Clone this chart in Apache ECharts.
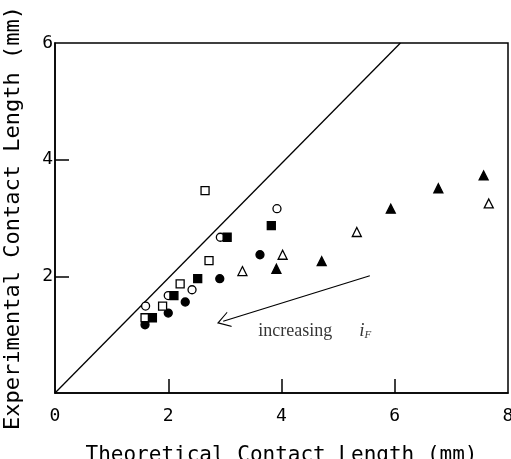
<!DOCTYPE html>
<html>
<head>
<meta charset="utf-8">
<script src="https://cdn.jsdelivr.net/npm/echarts@6/dist/echarts.min.js"></script>
<style>html,body{margin:0;padding:0;background:#fff}#c{width:511px;height:459px}</style>
</head>
<body>
<div id="c"></div>
<script>
// ---- data ----
var xTicks = [0, 2, 4, 6, 8];
var yTicks = [2, 4, 6];
var openCircles   = [[1.60,1.49],[2.00,1.67],[2.42,1.77],[2.92,2.67],[3.92,3.16]];
var filledCircles = [[1.59,1.17],[2.00,1.37],[2.30,1.56],[2.91,1.96],[3.62,2.37]];
var openSquares   = [[1.59,1.29],[1.90,1.49],[2.21,1.87],[2.65,3.47],[2.72,2.27]];
var filledSquares = [[1.72,1.29],[2.10,1.67],[2.52,1.96],[3.04,2.67],[3.82,2.87]];
var openTriangles = [[3.31,2.09],[4.02,2.37],[5.33,2.76],[7.66,3.25]];
var filledTriangles = [[3.91,2.13],[4.71,2.26],[5.93,3.16],[6.77,3.51],[7.57,3.73]];
var unityLine = [[0,0],[6.1,6]];
var arrowFrom = [5.56, 2.01];
var arrowTo = [2.97, 1.23];
var noteAt = [[3.59, 1.06]];
var noteText = 'increasing';

var axisFont = 'DejaVu Sans Mono';

function pts(name, data, symbol, filled, size) {
  return {
    name: name, type: 'scatter', data: data, symbol: symbol, symbolSize: size,
    itemStyle: { color: filled ? '#000' : '#fff', borderColor: '#000', borderWidth: 1.3, opacity: 1 },
    z: 5, animation: false
  };
}

var chart = echarts.init(document.getElementById('c'), null, {renderer: 'canvas'});
chart.setOption({
  backgroundColor: '#fff',
  animation: false,
  grid: { left: 55, right: 3, top: 43, bottom: 66, outerBoundsMode: 'none', containLabel: false,
    show: true, borderColor: '#000', borderWidth: 1.5, backgroundColor: 'transparent' },
  xAxis: {
    type: 'value', min: 0, max: 8, interval: 2,
    name: 'Theoretical Contact Length (mm)', nameLocation: 'middle', nameGap: 52,
    nameTextStyle: { fontFamily: axisFont, fontSize: 21, color: '#000' },
    axisLine: { show: true, lineStyle: { color: '#000', width: 1.5 } },
    axisTick: { show: true, inside: true, length: 14, lineStyle: { color: '#000', width: 1.5 },
      customValues: [2, 4, 6] },
    axisLabel: { fontFamily: axisFont, fontSize: 18, color: '#000', margin: 14,
      customValues: xTicks },
    splitLine: { show: false }
  },
  yAxis: {
    type: 'value', min: 0, max: 6, interval: 2,
    name: 'Experimental Contact Length (mm)', nameLocation: 'middle', nameGap: 31,
    nameTextStyle: { fontFamily: axisFont, fontSize: 22, color: '#000' },
    axisLine: { show: true, lineStyle: { color: '#000', width: 1.5 } },
    axisTick: { show: true, inside: true, length: 14, lineStyle: { color: '#000', width: 1.5 },
      customValues: [2, 4] },
    axisLabel: { fontFamily: axisFont, fontSize: 18, color: '#000', margin: 2,
      customValues: yTicks },
    splitLine: { show: false }
  },
  series: [
    { type: 'line', data: unityLine, symbol: 'none', lineStyle: { color: '#000', width: 1.3 }, z: 3, silent: true,
      markLine: {
        silent: true, symbol: ['none', 'path://M10,0 L20,14 L18.5,14 L10,2.5 L1.5,14 L0,14 Z'], symbolSize: [16, 13],
        lineStyle: { color: '#000', width: 1.3, type: 'solid' }, label: { show: false },
        data: [[{ coord: arrowFrom }, { coord: arrowTo }]]
      }
    },
    pts('open circle', openCircles, 'circle', false, 8),
    pts('filled circle', filledCircles, 'circle', true, 8),
    pts('open square', openSquares, 'rect', false, 8),
    pts('filled square', filledSquares, 'rect', true, 8),
    pts('open triangle', openTriangles, 'triangle', false, 9),
    pts('filled triangle', filledTriangles, 'triangle', true, 9),
    { type: 'scatter', data: noteAt, symbolSize: 0, silent: true,
      label: { show: true, position: 'right', distance: 0,
        formatter: noteText + '      {i|i}{f|F}',
        fontFamily: 'Liberation Serif', fontSize: 18, color: '#000',
        rich: { i: { fontFamily: 'Liberation Serif', fontStyle: 'italic', fontSize: 19, color: '#000' },
                f: { fontFamily: 'Liberation Serif', fontStyle: 'italic', fontSize: 11, color: '#000', padding: [8, 0, 0, 0] } } } }
  ]
});
</script>
</body>
</html>
